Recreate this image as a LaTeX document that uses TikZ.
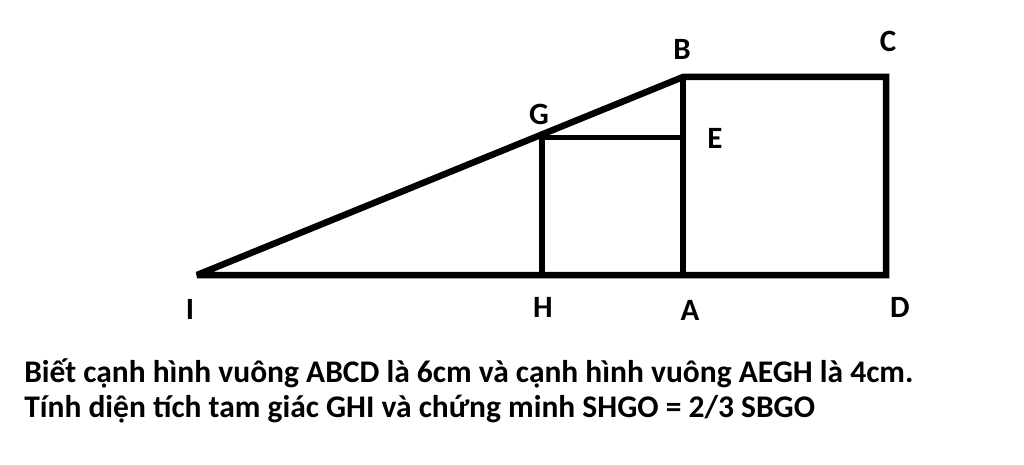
\documentclass[tikz,border=0pt]{standalone}
\usepackage{fontspec}
\setmainfont{Carlito}
\usetikzlibrary{positioning}

\begin{document}
\begin{tikzpicture}[x=1pt, y=-1pt, line width=6.5pt, miter limit=2, font=\fontsize{31.5}{36}\selectfont\bfseries]
\tikzstyle{pt}=[inner sep=0pt, font=\fontsize{31}{36}\selectfont\bfseries]
\tikzstyle{caption}=[anchor=base west, inner sep=0pt]
\useasboundingbox (0,0) rectangle (1024,465);
% the points
\coordinate (I) at (197,275);
\coordinate (H) at (542,275);
\coordinate (A) at (683,275);
\coordinate (D) at (886,275);
\coordinate (B) at (683,77);
\coordinate (C) at (886,77);
\coordinate (G) at (542,138);
\coordinate (E) at (683,138);
% the letters
\node[pt] (lB) at (682,49)  {B};
\node[pt] (lC) at (888,41)  {C};
\node[pt] (lG) at (539,114) {G};
\node[pt] (lE) at (715,138) {E};
\node[pt] (lI) at (190,309) {I};
\node[pt] (lH) at (543,307) {H};
\node[pt] (lA) at (690,310) {A};
\node[pt] (lD) at (900,307) {D};
% the figure
\draw (I) -- (D) -- (C) -- (B) -- cycle;
\draw (B) -- (A);
\draw (H) -- (G);
\draw[line width=5pt] (G) -- (E);
% the text
\node[caption] (t1) at (21,382) {Biết cạnh hình vuông ABCD là 6cm và cạnh hình vuông AEGH là 4cm.};
\node[caption] (t2) at (21,417) {Tính diện tích tam giác GHI và chứng minh SHGO = 2/3 SBGO};
\end{tikzpicture}
\end{document}
